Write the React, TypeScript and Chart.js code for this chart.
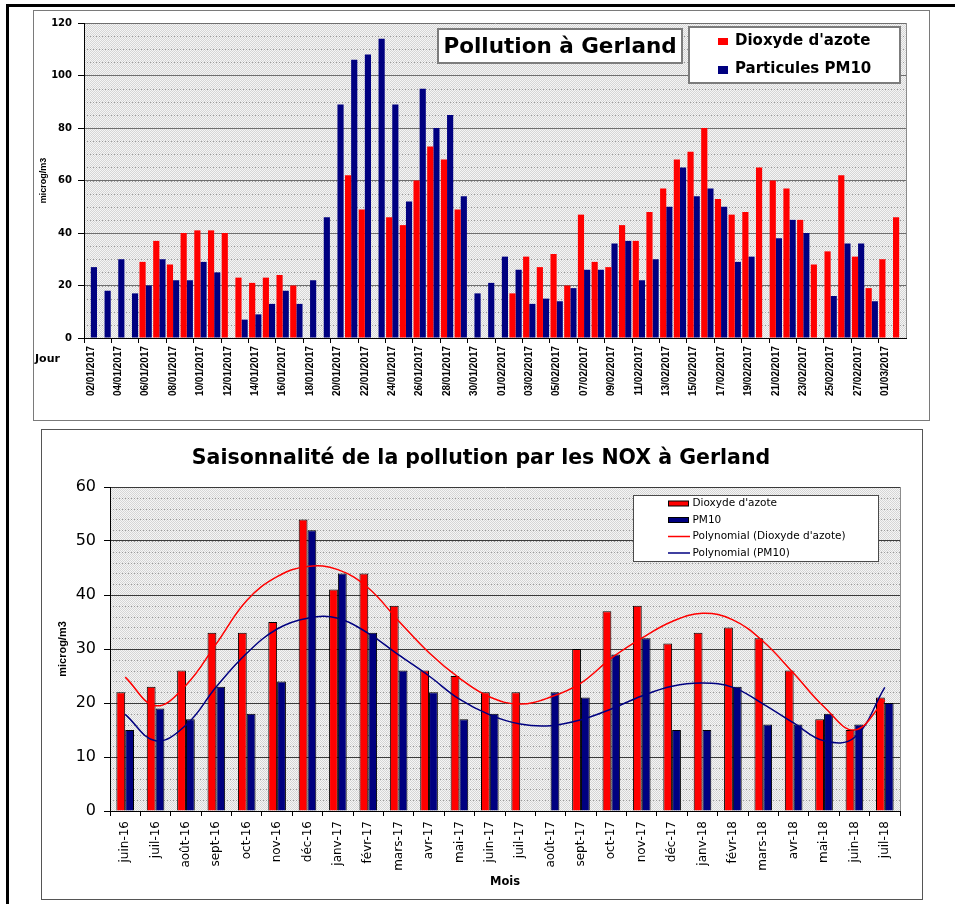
import React, { useEffect, useRef } from 'react';
import { Chart, registerables } from 'chart.js';

Chart.register(...registerables);

// ---------- Top chart data (daily values, Jan–Mar 2017) ----------
const dayLabels = [
  '02/01/2017', '03/01/2017', '04/01/2017', '05/01/2017', '06/01/2017', '07/01/2017', '08/01/2017', '09/01/2017',
  '10/01/2017', '11/01/2017', '12/01/2017', '13/01/2017', '14/01/2017', '15/01/2017', '16/01/2017', '17/01/2017',
  '18/01/2017', '19/01/2017', '20/01/2017', '21/01/2017', '22/01/2017', '23/01/2017', '24/01/2017', '25/01/2017',
  '26/01/2017', '27/01/2017', '28/01/2017', '29/01/2017', '30/01/2017', '31/01/2017', '01/02/2017', '02/02/2017',
  '03/02/2017', '04/02/2017', '05/02/2017', '06/02/2017', '07/02/2017', '08/02/2017', '09/02/2017', '10/02/2017',
  '11/02/2017', '12/02/2017', '13/02/2017', '14/02/2017', '15/02/2017', '16/02/2017', '17/02/2017', '18/02/2017',
  '19/02/2017', '20/02/2017', '21/02/2017', '22/02/2017', '23/02/2017', '24/02/2017', '25/02/2017', '26/02/2017',
  '27/02/2017', '28/02/2017', '01/03/2017', '02/03/2017',
];
const dailyNO2 = [
  null, null, null, null, 29, 37, 28, 40, 41, 41, 40, 23, 21, 23, 24, 20,
  null, null, null, 62, 49, null, 46, 43, 60, 73, 68, 49, null, null,
  null, 17, 31, 27, 32, 20, 47, 29, 27, 43, 37, 48, 57, 68, 71, 80,
  53, 47, 48, 65, 60, 57, 45, 28, 33, 62, 31, 19, 30, 46,
];
const dailyPM10 = [
  27, 18, 30, 17, 20, 30, 22, 22, 29, 25, null, 7, 9, 13, 18, 13,
  22, 46, 89, 106, 108, 114, 89, 52, 95, 80, 85, 54, 17, 21,
  31, 26, 13, 15, 14, 19, 26, 26, 36, 37, 22, 30, 50, 65, 54, 57,
  50, 29, 31, null, 38, 45, 40, null, 16, 36, 36, 14, null, null,
];
const topYTickStep = 20;
const topYMinorStep = 5;
const topTitle = 'Pollution à Gerland';
const topSeriesNames = ["Dioxyde d'azote", 'Particules PM10'];

// ---------- Bottom chart data (monthly means) ----------
const monthLabels = [
  'juin-16', 'juil-16', 'août-16', 'sept-16', 'oct-16', 'nov-16', 'déc-16', 'janv-17', 'févr-17',
  'mars-17', 'avr-17', 'mai-17', 'juin-17', 'juil-17', 'août-17', 'sept-17', 'oct-17', 'nov-17',
  'déc-17', 'janv-18', 'févr-18', 'mars-18', 'avr-18', 'mai-18', 'juin-18', 'juil-18',
];
const monthlyNO2 = [22, 23, 26, 33, 33, 35, 54, 41, 44, 38, 26, 25, 22, 22, null, 30, 37, 38, 31, 33, 34, 32, 26, 17, 15, 21];
const monthlyPM10 = [15, 19, 17, 23, 18, 24, 52, 44, 33, 26, 22, 17, 18, null, 22, 21, 29, 32, 15, 15, 23, 16, 16, 18, 16, 20];
const trendNO2 = [24.8, 19.5, 23.3, 31.0, 39.0, 43.4, 45.3, 44.7, 41.3, 35.2, 29.3, 24.6, 21.1, 19.8, 21.1, 23.7, 28.3, 32.0, 35.1, 36.6, 35.4, 31.4, 25.5, 19.3, 15.0, 20.5];
const trendPM10 = [17.9, 13.0, 15.9, 23.0, 29.2, 33.7, 35.7, 35.7, 32.9, 28.9, 25.0, 20.7, 17.8, 16.1, 15.8, 16.9, 18.9, 21.3, 23.1, 23.7, 22.9, 19.8, 16.3, 13.0, 13.6, 22.9];
const bottomYTickStep = 10;
const bottomYMinorStep = 2;
const bottomTitle = 'Saisonnalité de la pollution par les NOX à Gerland';
const bottomSeriesNames = ["Dioxyde d'azote", 'PM10', "Polynomial (Dioxyde d'azote)", 'Polynomial (PM10)'];

const RED = '#FF0000';
const NAVY = '#000080';
const DEJAVU = '"DejaVu Sans", Verdana, sans-serif';
const ARIAL = '"Liberation Sans", Arial, sans-serif';

function stipple(ctx: CanvasRenderingContext2D) {
  const c = document.createElement('canvas');
  c.width = 2;
  c.height = 2;
  const g = c.getContext('2d')!;
  g.fillStyle = '#f5f5f5';
  g.fillRect(0, 0, 2, 2);
  g.fillStyle = '#d6d6d6';
  g.fillRect(0, 0, 1, 1);
  g.fillRect(1, 1, 1, 1);
  return ctx.createPattern(c, 'repeat')!;
}

const plotBackground = {
  id: 'plotBackground',
  beforeDraw(chart: any, _args: any, opts: any) {
    const { ctx, chartArea: a } = chart;
    const y = chart.scales.y;
    ctx.save();
    ctx.fillStyle = stipple(ctx);
    ctx.fillRect(a.left, a.top, a.right - a.left, a.bottom - a.top);
    // dotted minor gridlines
    const step = opts.minorStep || 0;
    if (step > 0) {
      ctx.strokeStyle = '#9a9a9a';
      ctx.lineWidth = 1;
      ctx.setLineDash([1, 2]);
      for (let v = y.min + step; v < y.max; v += step) {
        const py = Math.round(y.getPixelForValue(v)) + 0.5;
        ctx.beginPath();
        ctx.moveTo(a.left, py);
        ctx.lineTo(a.right, py);
        ctx.stroke();
      }
      ctx.setLineDash([]);
    }
    ctx.restore();
  },
  afterDatasetsDraw(chart: any) {
    const { ctx, chartArea: a } = chart;
    ctx.save();
    ctx.strokeStyle = '#8c8c8c';
    ctx.lineWidth = 1;
    ctx.beginPath();
    ctx.moveTo(Math.round(a.right) + 0.5, a.top);
    ctx.lineTo(Math.round(a.right) + 0.5, a.bottom);
    ctx.stroke();
    ctx.restore();
  },
};

const topOverlay = {
  id: 'topOverlay',
  afterDraw(chart: any) {
    const ctx: CanvasRenderingContext2D = chart.ctx;
    ctx.save();
    // title box
    ctx.fillStyle = '#ffffff';
    ctx.fillRect(403, 17, 246, 36);
    ctx.strokeStyle = '#7c7c7c';
    ctx.lineWidth = 2;
    ctx.strokeRect(404, 18, 244, 34);
    ctx.fillStyle = '#000';
    ctx.font = `bold 21.5px ${DEJAVU}`;
    ctx.textAlign = 'center';
    ctx.textBaseline = 'middle';
    ctx.fillText(topTitle, 526, 36);
    // legend box
    ctx.fillStyle = '#ffffff';
    ctx.fillRect(654, 15, 213, 58);
    ctx.strokeStyle = '#7c7c7c';
    ctx.lineWidth = 2;
    ctx.strokeRect(655, 16, 211, 56);
    ctx.fillStyle = RED;
    ctx.fillRect(684, 27, 10, 7);
    ctx.fillStyle = NAVY;
    ctx.fillRect(684, 55, 10, 8);
    ctx.fillStyle = '#000';
    ctx.font = `bold 15px ${DEJAVU}`;
    ctx.textAlign = 'left';
    ctx.fillText(topSeriesNames[0], 701, 30);
    ctx.fillText(topSeriesNames[1], 701, 58);
    // x-axis caption
    ctx.font = `bold 11px ${DEJAVU}`;
    ctx.fillText('Jour', 1, 348);
    ctx.restore();
  },
};

const bottomOverlay = {
  id: 'bottomOverlay',
  afterDraw(chart: any) {
    const ctx: CanvasRenderingContext2D = chart.ctx;
    ctx.save();
    ctx.fillStyle = '#000';
    ctx.font = `bold 20.5px ${DEJAVU}`;
    ctx.textAlign = 'center';
    ctx.textBaseline = 'middle';
    ctx.fillText(bottomTitle, 439, 29);
    // legend
    ctx.fillStyle = '#ffffff';
    ctx.fillRect(591, 65, 246, 67);
    ctx.strokeStyle = '#4a4a4a';
    ctx.lineWidth = 1;
    ctx.strokeRect(591.5, 65.5, 245, 66);
    const rows = [73.5, 90, 106.5, 123];
    ctx.fillStyle = RED;
    ctx.fillRect(626, rows[0] - 2.5, 21, 5);
    ctx.fillStyle = NAVY;
    ctx.fillRect(626, rows[1] - 2.5, 21, 5);
    ctx.strokeStyle = '#000';
    ctx.strokeRect(626.5, rows[0] - 2.5, 20, 5);
    ctx.strokeRect(626.5, rows[1] - 2.5, 20, 5);
    ctx.lineWidth = 1.5;
    ctx.strokeStyle = RED;
    ctx.beginPath();
    ctx.moveTo(626, rows[2]);
    ctx.lineTo(648, rows[2]);
    ctx.stroke();
    ctx.strokeStyle = NAVY;
    ctx.beginPath();
    ctx.moveTo(626, rows[3]);
    ctx.lineTo(648, rows[3]);
    ctx.stroke();
    ctx.fillStyle = '#000';
    ctx.font = `10.5px ${DEJAVU}`;
    ctx.textAlign = 'left';
    bottomSeriesNames.forEach((t, i) => ctx.fillText(t, 650.5, rows[i]));
    ctx.restore();
  },
};

export default function App() {
  const topRef = useRef<HTMLCanvasElement>(null);
  const bottomRef = useRef<HTMLCanvasElement>(null);

  useEffect(() => {
    document.body.style.margin = '0';

    const top = new Chart(topRef.current!, {
      type: 'bar',
      data: {
        labels: dayLabels,
        datasets: [
          { label: topSeriesNames[0], data: dailyNO2, backgroundColor: RED, borderWidth: 0 },
          { label: topSeriesNames[1], data: dailyPM10, backgroundColor: NAVY, borderWidth: 0 },
        ],
      },
      options: {
        responsive: false,
        animation: false,
        devicePixelRatio: 1,
        events: [],
        layout: { padding: { top: 9, right: 23, left: 0, bottom: 0 } },
        plugins: {
          legend: { display: false },
          title: { display: false },
          tooltip: { enabled: false },
          plotBackground: { minorStep: topYMinorStep },
        },
        datasets: { bar: { categoryPercentage: 0.9, barPercentage: 1 } },
        scales: {
          x: {
            afterFit: (s: any) => { s.height = 82; },
            grid: {
              offset: true,
              drawOnChartArea: false,
              tickLength: 5,
              color: (c: any) => (c.index % 2 === 0 ? '#000' : 'rgba(0,0,0,0)'),
            },
            border: { color: '#000', width: 1 },
            ticks: {
              autoSkip: false,
              minRotation: 90,
              maxRotation: 90,
              padding: 3,
              color: '#000',
              font: { family: ARIAL, size: 10, weight: 'bold' },
              callback: (_v: any, i: number) => (i % 2 === 0 ? dayLabels[i] : ''),
            },
          },
          y: {
            min: 0,
            max: 120,
            afterFit: (s: any) => { s.width = 50; },
            grid: { tickLength: 6, color: '#6e6e6e', tickColor: '#000' },
            border: { color: '#000', width: 1 },
            ticks: {
              stepSize: topYTickStep,
              autoSkip: false,
              padding: 6,
              color: '#000',
              font: { family: DEJAVU, size: 10, weight: 'bold' },
            },
            title: {
              display: true,
              text: 'microg/m3',
              color: '#000',
              font: { family: ARIAL, size: 9, weight: 'bold' },
              padding: { top: 4.6, bottom: 0 },
            },
          },
        },
      } as any,
      plugins: [plotBackground, topOverlay],
    });

    const bottom = new Chart(bottomRef.current!, {
      type: 'bar',
      data: {
        labels: monthLabels,
        datasets: [
          { type: 'bar', label: bottomSeriesNames[0], data: monthlyNO2, backgroundColor: RED, borderColor: '#000', borderWidth: 1, order: 1 },
          { type: 'bar', label: bottomSeriesNames[1], data: monthlyPM10, backgroundColor: NAVY, borderColor: '#000', borderWidth: 1, order: 1 },
          { type: 'line', label: bottomSeriesNames[2], data: trendNO2, borderColor: RED, borderWidth: 1.5, pointRadius: 0, tension: 0.4, fill: false, order: 0 },
          { type: 'line', label: bottomSeriesNames[3], data: trendPM10, borderColor: NAVY, borderWidth: 1.5, pointRadius: 0, tension: 0.4, fill: false, order: 0 },
        ],
      } as any,
      options: {
        responsive: false,
        animation: false,
        devicePixelRatio: 1,
        events: [],
        layout: { padding: { top: 57, right: 22, left: 0, bottom: 0 } },
        plugins: {
          legend: { display: false },
          title: { display: false },
          tooltip: { enabled: false },
          plotBackground: { minorStep: bottomYMinorStep },
        },
        datasets: { bar: { categoryPercentage: 0.58, barPercentage: 1 } },
        scales: {
          x: {
            afterFit: (s: any) => { s.height = 88; },
            grid: { offset: true, drawOnChartArea: false, tickLength: 5, color: '#000' },
            border: { color: '#000', width: 1 },
            ticks: {
              autoSkip: false,
              minRotation: 90,
              maxRotation: 90,
              padding: 5,
              color: '#000',
              font: { family: DEJAVU, size: 12 },
            },
            title: {
              display: true,
              text: 'Mois',
              color: '#000',
              font: { family: DEJAVU, size: 11.5, weight: 'bold' },
              padding: { top: 0, bottom: 10 },
            },
          },
          y: {
            min: 0,
            max: 60,
            afterFit: (s: any) => { s.width = 68; },
            grid: { tickLength: 6, color: '#3a3a3a', tickColor: '#000' },
            border: { color: '#000', width: 1 },
            ticks: {
              stepSize: bottomYTickStep,
              autoSkip: false,
              padding: 8,
              color: '#000',
              font: { family: DEJAVU, size: 16 },
            },
            title: {
              display: true,
              text: 'microg/m3',
              color: '#000',
              font: { family: ARIAL, size: 11, weight: 'bold' },
              padding: { top: 13.9, bottom: 0 },
            },
          },
        },
      } as any,
      plugins: [plotBackground, bottomOverlay],
    });

    return () => {
      top.destroy();
      bottom.destroy();
    };
  }, []);

  return (
    <div style={{ position: 'relative', width: 955, height: 904, background: '#fff', overflow: 'hidden' }}>
      <div style={{ position: 'absolute', left: 6, top: 4, width: 960, height: 920, borderTop: '3px solid #000', borderLeft: '3px solid #000' }} />
      <div style={{ position: 'absolute', left: 33, top: 10, width: 895, height: 409, border: '1px solid #7a7a7a' }} />
      <canvas ref={topRef} width={895} height={409} style={{ position: 'absolute', left: 34, top: 11 }} />
      <div style={{ position: 'absolute', left: 41, top: 429, width: 880, height: 469, border: '1px solid #555' }} />
      <canvas ref={bottomRef} width={880} height={469} style={{ position: 'absolute', left: 42, top: 430 }} />
    </div>
  );
}
